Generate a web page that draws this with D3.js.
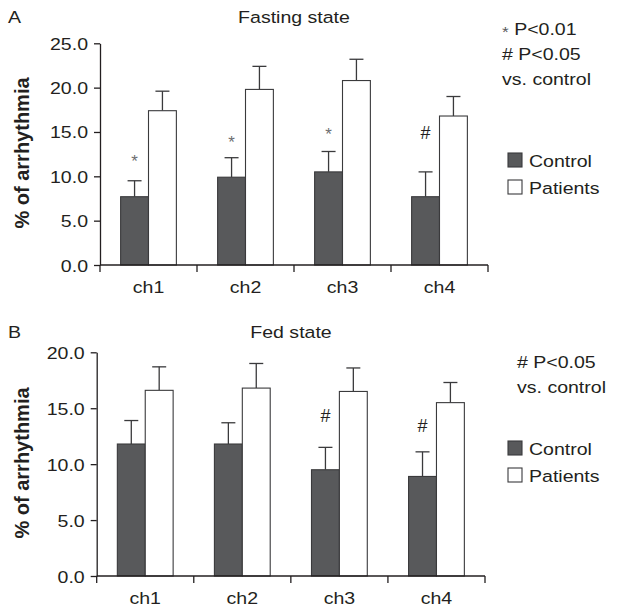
<!DOCTYPE html>
<html>
<head>
<meta charset="utf-8">
<script src="https://cdn.jsdelivr.net/npm/d3@7"></script>
<style>
body { margin: 0; background: #fff; }
text { font-family: "Liberation Sans", Arial, sans-serif; fill: #231f20; }
</style>
</head>
<body>
<script>
//channels and groups
var channels = ["ch1", "ch2", "ch3", "ch4"];
var groups = ["Control", "Patients"];

//fasting state means and upper error (mean + SD)
var fastControl = [7.7, 9.9, 10.5, 7.7];
var fastControlErr = [9.5, 12.1, 12.8, 10.5];
var fastPatients = [17.4, 19.8, 20.8, 16.8];
var fastPatientsErr = [19.6, 22.4, 23.2, 19.0];
var fastMarks = ["*", "*", "*", "#"];
var fastMarkAt = [12.2, 14.3, 15.2, 14.9];

//fed state
var fedControl = [11.8, 11.8, 9.5, 8.9];
var fedControlErr = [13.9, 13.7, 11.5, 11.1];
var fedPatients = [16.6, 16.8, 16.5, 15.5];
var fedPatientsErr = [18.7, 19.0, 18.6, 17.3];
var fedMarks = ["", "", "#", "#"];
var fedMarkAt = [0, 0, 14.3, 13.4];

var fastTicks = [0, 5, 10, 15, 20, 25];
var fedTicks = [0, 5, 10, 15, 20];

var colors = {Control: "#58595b", Patients: "#ffffff"};
var stretch = 1.15; //the original type is a bit wide

var svg = d3.select("body").append("svg")
    .attr("width", 619)
    .attr("height", 609);

//place a horizontally stretched text
function wide(sel, x, y){
    sel.attr("transform", "translate(" + x + "," + y + ") scale(" + stretch + ",1)")
        .style("font-size", "17px");
    return sel;
}

//draw one panel
function drawPanel(opt){
    var g = svg.append("g");

    var y = d3.scaleLinear().domain([0, opt.max]).range([opt.bottom, opt.top]);
    var x0 = d3.scaleBand().domain(channels).range([opt.left, opt.right]);
    var x1 = d3.scaleBand().domain(groups).range([0, x0.bandwidth()]).paddingOuter(0.74);

    var flat = [];
    channels.forEach(function(c, i){
        flat.push({ch: c, grp: "Control", v: opt.control[i], e: opt.controlErr[i]});
        flat.push({ch: c, grp: "Patients", v: opt.patients[i], e: opt.patientsErr[i]});
    });

    function cx(d){ return x0(d.ch) + x1(d.grp) + x1.bandwidth() / 2; }

    //error bars (upper only)
    var eb = g.selectAll(".err").data(flat).enter().append("g").attr("class", "err");
    eb.append("line")
        .attr("x1", cx).attr("x2", cx)
        .attr("y1", function(d){ return y(d.v); })
        .attr("y2", function(d){ return y(d.e); })
        .attr("stroke", "#3a3a3c").attr("stroke-width", 1.3);
    eb.append("line")
        .attr("x1", function(d){ return cx(d) - 7; })
        .attr("x2", function(d){ return cx(d) + 7; })
        .attr("y1", function(d){ return y(d.e); })
        .attr("y2", function(d){ return y(d.e); })
        .attr("stroke", "#3a3a3c").attr("stroke-width", 1.3);

    //bars
    g.selectAll(".bar").data(flat).enter().append("rect")
        .attr("x", function(d){ return x0(d.ch) + x1(d.grp); })
        .attr("y", function(d){ return y(d.v); })
        .attr("width", x1.bandwidth())
        .attr("height", function(d){ return y(0) - y(d.v); })
        .attr("fill", function(d){ return colors[d.grp]; })
        .attr("stroke", "#3a3a3c").attr("stroke-width", 1.1);

    //significance marks above control bars
    g.selectAll(".mark").data(channels).enter().append("text")
        .attr("x", function(c){ return x0(c) + x1("Control") + x1.bandwidth() / 2; })
        .attr("y", function(c, i){ return y(opt.markAt[i]); })
        .attr("dy", function(c, i){ return opt.marks[i] == "*" ? "0.6em" : "0.35em"; })
        .attr("text-anchor", "middle")
        .style("font-size", function(c, i){ return opt.marks[i] == "*" ? "17px" : "18px"; })
        .style("fill", function(c, i){ return opt.marks[i] == "*" ? "#6d6e71" : "#231f20"; })
        .text(function(c, i){ return opt.marks[i]; });

    //y axis
    var yAxis = g.append("g")
        .attr("transform", "translate(" + opt.left + ",0)")
        .call(d3.axisLeft(y).tickValues(opt.ticks).tickFormat(d3.format(".1f")).tickSize(6).tickSizeOuter(0));
    yAxis.selectAll(".tick text")
        .attr("x", null).attr("dy", null)
        .each(function(){ wide(d3.select(this), -12, 6); });
    yAxis.select(".domain").attr("stroke", "#231f20").attr("stroke-width", 1.3);
    yAxis.selectAll(".tick line").attr("stroke", "#231f20").attr("stroke-width", 1.3);

    //x axis, ticks on category borders
    var xAxis = g.append("g").attr("transform", "translate(0," + opt.bottom + ")");
    xAxis.append("line")
        .attr("x1", opt.left).attr("x2", opt.right)
        .attr("stroke", "#231f20").attr("stroke-width", 1.3);
    xAxis.selectAll(".xt").data(channels.concat(["end"])).enter().append("line")
        .attr("x1", function(c){ return c == "end" ? opt.right : x0(c); })
        .attr("x2", function(c){ return c == "end" ? opt.right : x0(c); })
        .attr("y1", 0).attr("y2", 7)
        .attr("stroke", "#231f20").attr("stroke-width", 1.3);
    xAxis.selectAll(".xl").data(channels).enter().append("text")
        .attr("text-anchor", "middle")
        .each(function(c){ wide(d3.select(this), x0(c) + x0.bandwidth() / 2, 28); })
        .text(function(c){ return c; });

    //axis title
    g.append("text")
        .attr("transform", "translate(29," + opt.labelY + ") rotate(-90)")
        .attr("text-anchor", "middle")
        .style("font-size", "20px")
        .style("font-weight", "bold")
        .text("% of arrhythmia");

    //panel letter and title
    wide(g.append("text"), 8, opt.titleY).text(opt.letter);
    wide(g.append("text"), opt.titleX, opt.titleY)
        .attr("text-anchor", "middle").text(opt.title);

    //p-value notes
    g.selectAll(".note").data(opt.notes).enter().append("text")
        .each(function(d, i){
            var t = wide(d3.select(this), opt.noteX, opt.noteY + i * 25);
            if (d.charAt(0) == "*"){
                t.append("tspan").attr("dy", 1.5).style("font-size", "15px").style("fill", "#58595b").text("*");
                t.append("tspan").attr("dy", -1.5).text(d.slice(1));
            } else {
                t.text(d);
            }
        });

    //legend
    var lg = g.selectAll(".lg").data(groups).enter().append("g")
        .attr("transform", function(d, i){ return "translate(508," + (opt.legendY + i * 27) + ")"; });
    lg.append("rect").attr("x", 0).attr("y", -14).attr("width", 14).attr("height", 14)
        .attr("fill", function(d){ return colors[d]; })
        .attr("stroke", "#3a3a3c").attr("stroke-width", 1.1);
    lg.append("text").each(function(){ wide(d3.select(this), 21, 0); })
        .text(function(d){ return d; });
}

drawPanel({
    control: fastControl, controlErr: fastControlErr,
    patients: fastPatients, patientsErr: fastPatientsErr,
    marks: fastMarks, markAt: fastMarkAt,
    max: 25, ticks: fastTicks,
    left: 100, right: 488, top: 43.3, bottom: 265,
    labelY: 153, letter: "A", title: "Fasting state", titleX: 294, titleY: 23,
    notes: ["* P<0.01", "# P<0.05", "vs. control"], noteX: 502, noteY: 35,
    legendY: 167
});

drawPanel({
    control: fedControl, controlErr: fedControlErr,
    patients: fedPatients, patientsErr: fedPatientsErr,
    marks: fedMarks, markAt: fedMarkAt,
    max: 20, ticks: fedTicks,
    left: 96.7, right: 485, top: 352.3, bottom: 576,
    labelY: 463, letter: "B", title: "Fed state", titleX: 291, titleY: 338,
    notes: ["# P<0.05", "vs. control"], noteX: 517, noteY: 368,
    legendY: 455
});
</script>
</body>
</html>
